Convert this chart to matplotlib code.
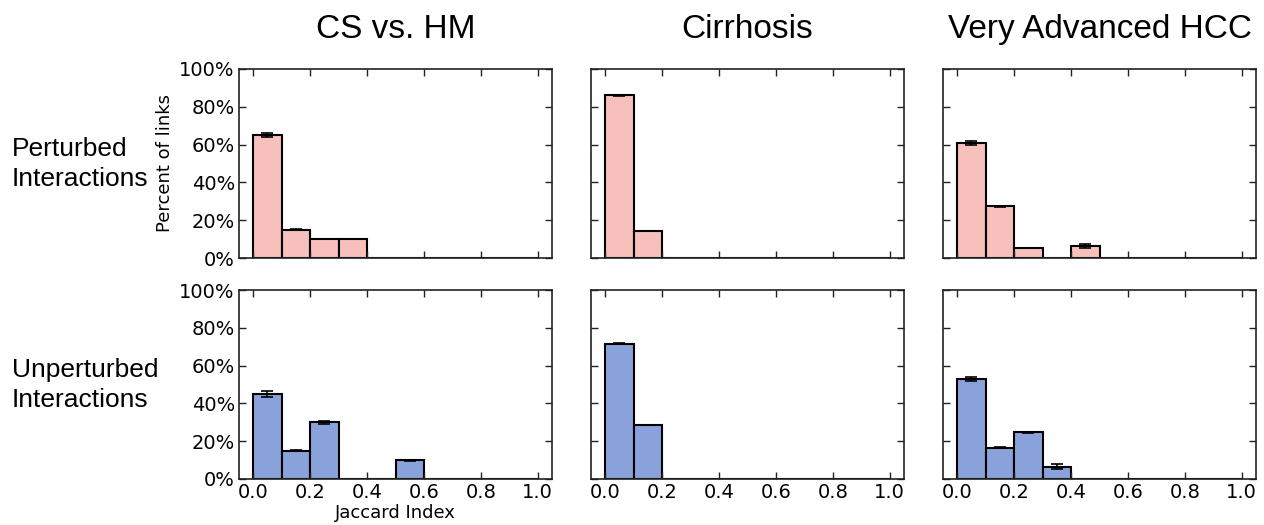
import numpy as np
import matplotlib
matplotlib.use("Agg")
import matplotlib.pyplot as plt
from matplotlib.ticker import FuncFormatter

# bin left edges of the Jaccard index histogram
bin_edges = np.arange(0, 1.0, 0.1)

col_titles = ["CS vs. HM", "Cirrhosis", "Very Advanced HCC"]
row_labels = ["Perturbed\nInteractions", "Unperturbed\nInteractions"]

# percent of links per bin, perturbed interactions (top row)
pert_cs = [65, 15, 10, 10, 0, 0, 0, 0, 0, 0]
pert_cs_err = [1.0, 0.3, 0.2, 0.2, 0, 0, 0, 0, 0, 0]
pert_cir = [86, 14.3, 0, 0, 0, 0, 0, 0, 0, 0]
pert_cir_err = [0.2, 0.1, 0, 0, 0, 0, 0, 0, 0, 0]
pert_hcc = [61, 27.4, 5.3, 0, 6.4, 0, 0, 0, 0, 0]
pert_hcc_err = [1.1, 0.3, 0.1, 0, 1.2, 0, 0, 0, 0, 0]

# unperturbed interactions (bottom row)
unp_cs = [45, 15, 30, 0, 0, 10, 0, 0, 0, 0]
unp_cs_err = [1.6, 0.3, 0.8, 0, 0, 0.3, 0, 0, 0, 0]
unp_cir = [71.6, 28.7, 0, 0, 0, 0, 0, 0, 0, 0]
unp_cir_err = [0.2, 0.1, 0, 0, 0, 0, 0, 0, 0, 0]
unp_hcc = [52.7, 16.6, 24.7, 6.5, 0, 0, 0, 0, 0, 0]
unp_hcc_err = [1.1, 0.2, 0.4, 1.3, 0, 0, 0, 0, 0, 0]

rows = [
    [(pert_cs, pert_cs_err), (pert_cir, pert_cir_err), (pert_hcc, pert_hcc_err)],
    [(unp_cs, unp_cs_err), (unp_cir, unp_cir_err), (unp_hcc, unp_hcc_err)],
]
row_colors = ["#f8c0bc", "#8aa2dc"]

fig = plt.figure(figsize=(12.64, 5.25), dpi=100)

lefts = [239, 591, 943]
width = 313
tops = [69, 290]
height = 189
W, H = 1264, 525

pct = FuncFormatter(lambda v, p: f"{int(v)}%")

for r in range(2):
    for c in range(3):
        ax = fig.add_axes([lefts[c] / W, 1 - (tops[r] + height) / H, width / W, height / H])
        vals, errs = rows[r][c]
        ax.bar(bin_edges, vals, width=0.1, align="edge", color=row_colors[r],
               edgecolor="black", linewidth=1.5)
        centers = bin_edges + 0.05
        mask = np.array(errs) > 0
        ax.errorbar(centers[mask], np.array(vals)[mask], yerr=np.array(errs)[mask],
                    fmt="none", ecolor="black", elinewidth=1.2, capsize=4, capthick=1.2)
        ax.set_xlim(-0.05, 1.05)
        ax.set_ylim(0, 100)
        ax.set_yticks(np.arange(0, 101, 20))
        ax.set_xticks(np.arange(0, 1.01, 0.2))
        ax.tick_params(direction="in", top=True, right=True, length=5, width=1,
                       labelsize=14, color="#222222", pad=3)
        for s in ax.spines.values():
            s.set_linewidth(1.2)
            s.set_color("#222222")
        if c == 0:
            ax.yaxis.set_major_formatter(pct)
        else:
            ax.set_yticklabels([])
        if r == 0:
            ax.set_xticklabels([])
            ax.set_title(col_titles[c], fontsize=24, family="Liberation Sans", pad=22)
        else:
            ax.xaxis.set_major_formatter(FuncFormatter(lambda v, p: f"{v:.1f}"))
        if r == 0 and c == 0:
            ax.set_ylabel("Percent of links", fontsize=13, labelpad=4)
        if r == 1 and c == 0:
            ax.set_xlabel("Jaccard Index", fontsize=13, labelpad=1)

fig.text(12 / W, 1 - 164 / H, row_labels[0], fontsize=19, family="Liberation Sans",
         ha="left", va="center", linespacing=1.3)
fig.text(12 / W, 1 - 385 / H, row_labels[1], fontsize=19, family="Liberation Sans",
         ha="left", va="center", linespacing=1.3)

fig.savefig("out.png", dpi=100)
